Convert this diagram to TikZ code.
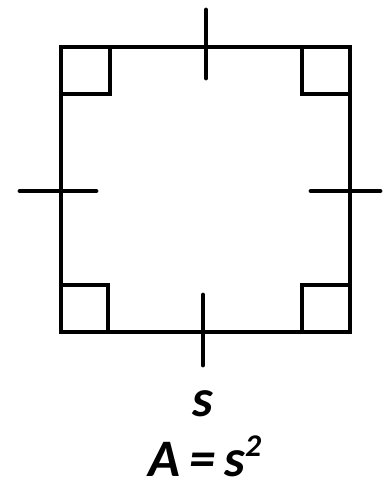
\documentclass[tikz,border=0pt]{standalone}
\usepackage{fontspec}
\setmainfont{Carlito}
\begin{document}
\begin{tikzpicture}[x=0.02cm,y=-0.02cm,
  edge/.style={line width=2.8pt,line cap=rect,line join=miter},
  tick/.style={line width=2.8pt,line cap=round},
  lbl/.style={font=\fontsize{30}{34}\selectfont\bfseries\itshape,inner sep=0pt}]
\useasboundingbox (0,0) rectangle (384,491);
\coordinate (tl) at (61,47);
\coordinate (tr) at (350,47);
\coordinate (br) at (350,332);
\coordinate (bl) at (61,332);
\draw[edge] (tl) -- (tr) -- (br) -- (bl) -- cycle;
% right angle marks
\draw[edge] (61,94) -- (110,94) -- (110,47);
\draw[edge] (302,47) -- (302,94) -- (350,94);
\draw[edge] (61,285) -- (108,285) -- (108,332);
\draw[edge] (302,332) -- (302,285) -- (350,285);
% ticks
\coordinate (t1) at (206,10); \coordinate (t2) at (206,78);
\coordinate (l1) at (20,191); \coordinate (l2) at (96,191);
\coordinate (r1) at (311,191); \coordinate (r2) at (380,191);
\coordinate (b1) at (203,295); \coordinate (b2) at (203,365);
\draw[tick] (t1) -- (t2);
\draw[tick] (l1) -- (l2);
\draw[tick] (r1) -- (r2);
\draw[tick] (b1) -- (b2);
\node[lbl] (s) at (203,404) {s};
\node[lbl] (area) at (205,456) {A\,=\,s\raisebox{0.38em}{\fontsize{18}{20}\selectfont 2}};
\end{tikzpicture}
\end{document}
